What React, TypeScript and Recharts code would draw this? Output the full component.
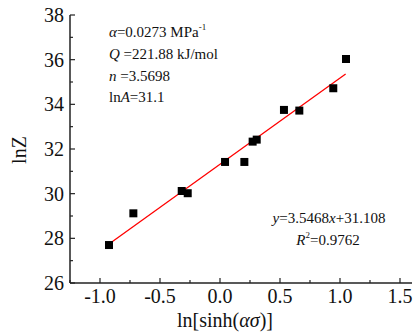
import { ScatterChart, Scatter, XAxis, YAxis } from 'recharts'

// ln[sinh(ασ)] vs lnZ measured points
const lnSinh = [-0.925, -0.722, -0.319, -0.269, 0.042, 0.203, 0.272, 0.306, 0.533, 0.661, 0.944, 1.05]
const lnZ = [27.7, 29.12, 30.12, 30.02, 31.42, 31.42, 32.33, 32.42, 33.75, 33.72, 34.72, 36.03]

// fitted line as drawn
const fitX = [-0.925, 1.047]
const fitY = [27.75, 35.36]

const xTicks = [-1.25, -1, -0.75, -0.5, -0.25, 0, 0.25, 0.5, 0.75, 1, 1.25, 1.5]
const xMajor = [-1, -0.5, 0, 0.5, 1, 1.5]
const yTicks = [26, 27, 28, 29, 30, 31, 32, 33, 34, 35, 36, 37, 38]
const yMajor = [26, 28, 30, 32, 34, 36, 38]

const points = lnSinh.map((x, i) => ({ x, y: lnZ[i] }))
const fitLine = fitX.map((x, i) => ({ x, y: fitY[i] }))

const FONT = 'Liberation Serif, Times New Roman, serif'
const AXIS = '#222'
const txt = { fontFamily: FONT }

const isMajor = (list: number[], v: number) => list.some((m) => Math.abs(m - v) < 1e-6)

const BottomTick = ({ x, y, payload }: any) => {
  const major = isMajor(xMajor, payload.value)
  return (
    <g>
      <line x1={x} x2={x} y1={y} y2={y - (major ? 5 : 3)} stroke={AXIS} strokeWidth={1.2} />
      {major && (
        <text x={x} y={y + 20} textAnchor="middle" style={txt} fontSize={20} fill="#111">
          {payload.value.toFixed(1)}
        </text>
      )}
    </g>
  )
}

const TopTick = ({ x, y, payload }: any) => {
  const major = isMajor(xMajor, payload.value)
  return <line x1={x} x2={x} y1={y} y2={y + (major ? 5 : 3)} stroke={AXIS} strokeWidth={1.2} />
}

const LeftTick = ({ x, y, payload }: any) => {
  const major = isMajor(yMajor, payload.value)
  return (
    <g>
      <line x1={x} x2={x + (major ? 5 : 3)} y1={y} y2={y} stroke={AXIS} strokeWidth={1.2} />
      {major && (
        <text x={x - 6} y={y + 7} textAnchor="end" style={txt} fontSize={20} fill="#111">
          {payload.value}
        </text>
      )}
    </g>
  )
}

const RightTick = ({ x, y, payload }: any) => {
  const major = isMajor(yMajor, payload.value)
  return <line x1={x} x2={x - (major ? 5 : 3)} y1={y} y2={y} stroke={AXIS} strokeWidth={1.2} />
}

export default function App() {
  return (
    <div style={{ position: 'absolute', left: 0, top: 0, width: 417, height: 336, background: '#fff', fontFamily: FONT }}>
      <ScatterChart width={417} height={336} margin={{ top: 15, right: 5, bottom: 0, left: 0 }}>
        <XAxis
          xAxisId="b"
          type="number"
          dataKey="x"
          domain={[-1.25, 1.6]}
          ticks={xTicks}
          interval={0}
          height={53}
          tickSize={0}
          tickMargin={0}
          tickLine={false}
          tick={<BottomTick />}
          axisLine={{ stroke: AXIS, strokeWidth: 1.5 }}
          allowDataOverflow
        />
        <XAxis
          xAxisId="t"
          orientation="top"
          type="number"
          dataKey="x"
          domain={[-1.25, 1.6]}
          ticks={xTicks}
          interval={0}
          height={0}
          tickSize={0}
          tickMargin={0}
          tickLine={false}
          tick={<TopTick />}
          axisLine={{ stroke: AXIS, strokeWidth: 1.5 }}
          allowDataOverflow
        />
        <YAxis
          yAxisId="l"
          type="number"
          dataKey="y"
          domain={[26, 38]}
          ticks={yTicks}
          interval={0}
          width={70}
          tickSize={0}
          tickMargin={0}
          tickLine={false}
          tick={<LeftTick />}
          axisLine={{ stroke: AXIS, strokeWidth: 1.5 }}
          allowDataOverflow
        />
        <YAxis
          yAxisId="r"
          orientation="right"
          type="number"
          dataKey="y"
          domain={[26, 38]}
          ticks={yTicks}
          interval={0}
          width={0}
          tickSize={0}
          tickMargin={0}
          tickLine={false}
          tick={<RightTick />}
          axisLine={{ stroke: AXIS, strokeWidth: 1.5 }}
          allowDataOverflow
        />
        <Scatter
          xAxisId="b"
          yAxisId="l"
          data={fitLine}
          line={{ stroke: '#ff0000', strokeWidth: 1.3 }}
          shape={() => <g />}
          isAnimationActive={false}
        />
        <Scatter
          xAxisId="b"
          yAxisId="l"
          data={points}
          shape="square"
          fill="#000"
          isAnimationActive={false}
        />
      </ScatterChart>
      <svg
        width={417}
        height={336}
        style={{ position: 'absolute', left: 0, top: 0, pointerEvents: 'none', fontFamily: FONT }}
        fill="#111"
      >
        <text x={109} y={37} fontSize={15}>
          <tspan fontStyle="italic">α</tspan>=0.0273 MPa
          <tspan fontSize={9} dy={-7}>-1</tspan>
        </text>
        <text x={109} y={59} fontSize={15}>
          <tspan fontStyle="italic">Q</tspan> =221.88 kJ/mol
        </text>
        <text x={109} y={81} fontSize={15}>
          <tspan fontStyle="italic">n</tspan> =3.5698
        </text>
        <text x={109} y={102} fontSize={15}>
          ln<tspan fontStyle="italic">A</tspan>=31.1
        </text>
        <text x={329} y={223} fontSize={15} textAnchor="middle">
          <tspan fontStyle="italic">y</tspan>=3.5468<tspan fontStyle="italic">x</tspan>+31.108
        </text>
        <text x={328} y={245} fontSize={15} textAnchor="middle">
          <tspan fontStyle="italic">R</tspan>
          <tspan fontSize={9} dy={-7}>2</tspan>
          <tspan dy={7}>=0.9762</tspan>
        </text>
        <text x={26} y={150} fontSize={20} textAnchor="middle" transform="rotate(-90 26 150)">
          lnZ
        </text>
        <text x={225} y={327} fontSize={20} textAnchor="middle">
          ln[sinh(<tspan fontStyle="italic">ασ</tspan>)]
        </text>
      </svg>
    </div>
  )
}
